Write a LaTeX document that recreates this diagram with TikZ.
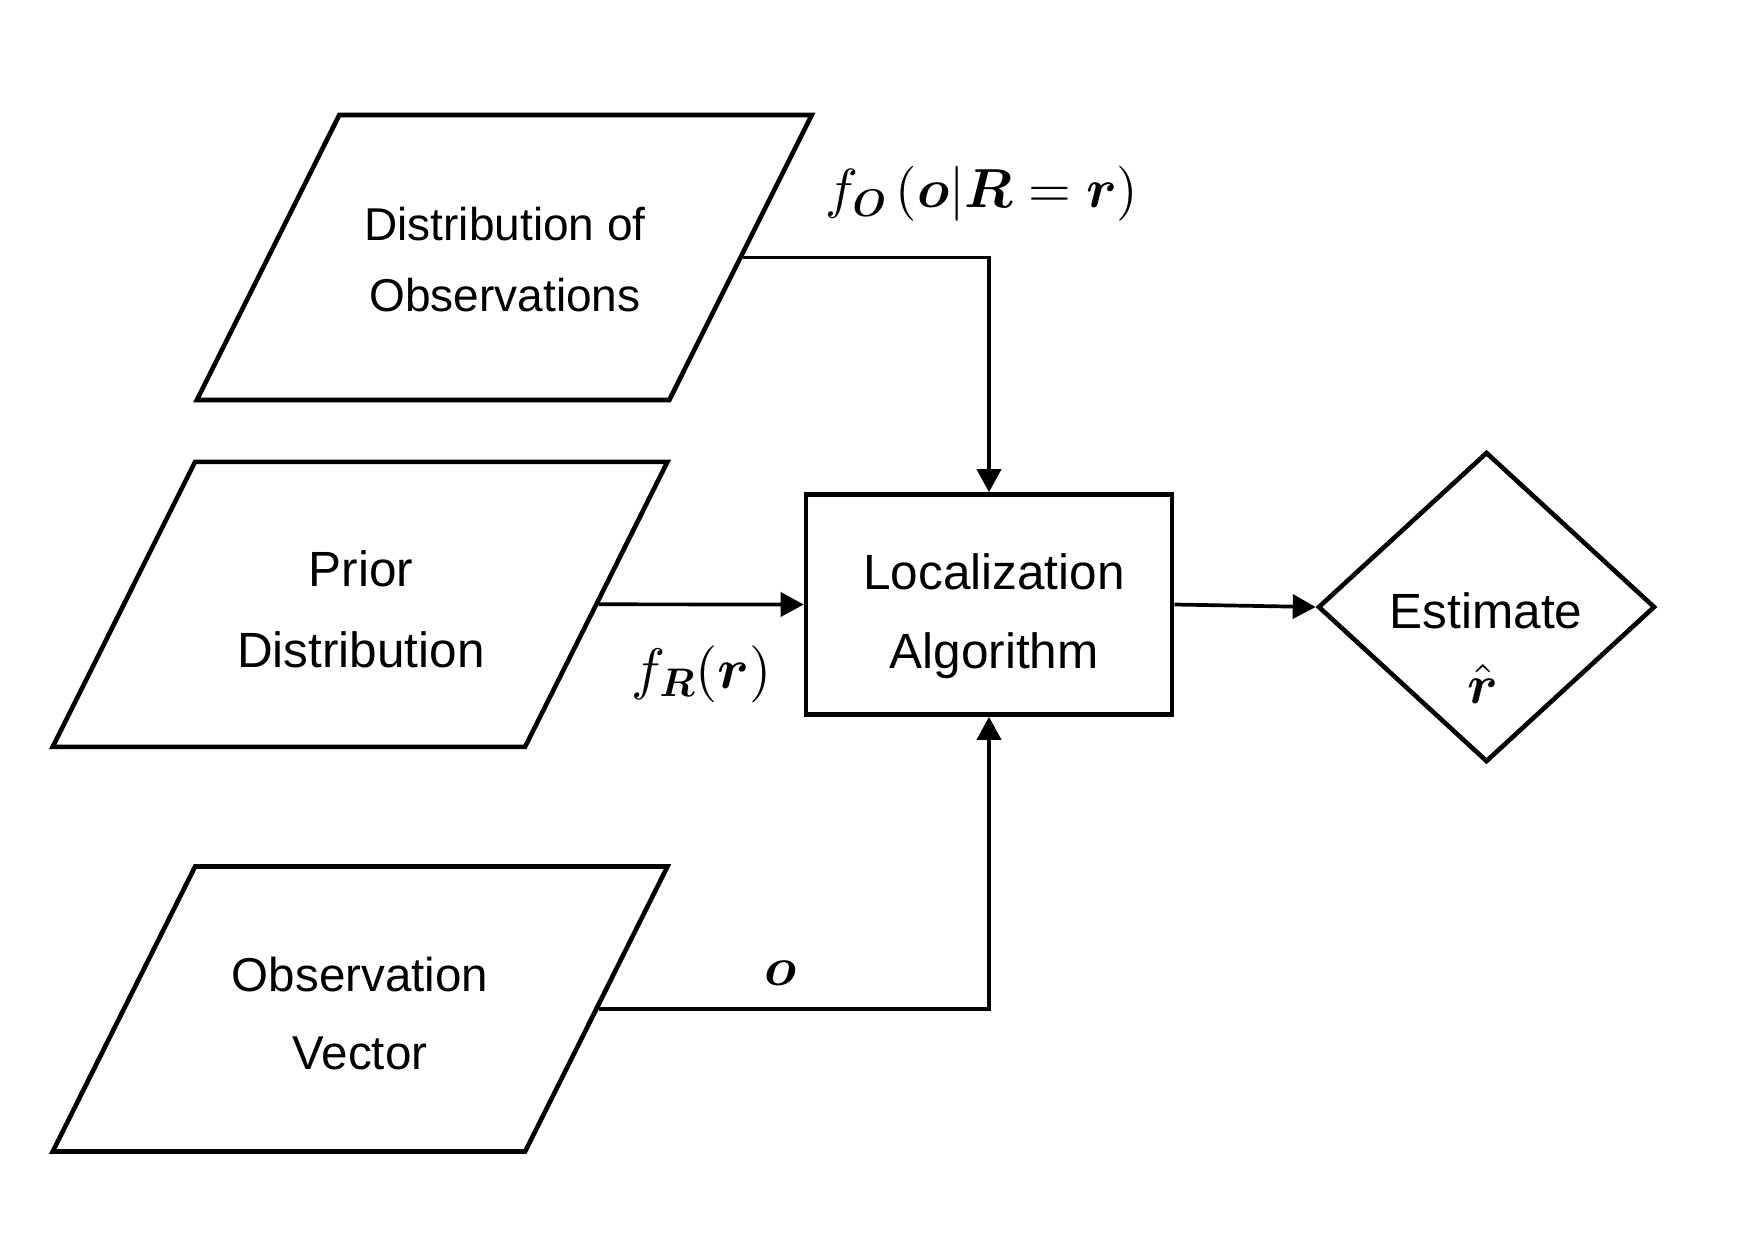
\documentclass[tikz,border=0pt]{standalone}
\usepackage{amsmath}
\usepackage[no-math]{fontspec}
\setmainfont{Liberation Sans}
\DeclareFontShape{OML}{cmm}{m}{it}{<->cmmi10}{\skewchar\font127 }
\DeclareFontShape{OML}{cmm}{b}{it}{<->cmmib10}{\skewchar\font127 }
\DeclareFontShape{OT1}{cmr}{m}{n}{<->cmr10}{}
\DeclareFontShape{OT1}{cmr}{bx}{n}{<->cmbx10}{}
\DeclareFontShape{OMS}{cmsy}{m}{n}{<->cmsy10}{\skewchar\font48 }
\DeclareFontShape{OMS}{cmsy}{b}{n}{<->cmbsy10}{\skewchar\font48 }
\DeclareFontShape{OMX}{cmex}{m}{n}{<->cmex10}{}
\usetikzlibrary{shapes.geometric,arrows.meta}
\begin{document}
\begin{tikzpicture}[x=1pt,y=-1pt,
  shp/.style={draw, line width=4.6pt, line join=miter},
  para/.style={shp, shape=trapezium, trapezium left angle=63.45, trapezium right angle=116.55,
    inner xsep=165pt, inner ysep=142.5pt, minimum width=0pt, minimum height=0pt},
  algbox/.style={shp, rectangle, minimum width=366pt, minimum height=220pt, inner sep=0pt},
  dia/.style={shp, diamond, minimum width=337pt, minimum height=310pt, inner sep=0pt},
  conn/.style={line width=3.7pt, -{Triangle[length=23pt,width=24pt]}},
  txt/.style={font=\fontsize{49.5}{59}\selectfont, anchor=base, inner sep=0pt},
  mth/.style={font=\fontsize{55}{66}\selectfont, anchor=base, inner sep=0pt}]
\useasboundingbox (0,0) rectangle (1755,1240);

% shapes
\node[para] (obsdist) at (504.3,257.5) {};
\node[para] (prior) at (360.1,604.3) {};
\node[para] (obsvec) at (360.1,1009) {};
\node[algbox] (loc) at (989,604.5) {};
\node[dia] (est) at (1486.5,607) {};

% texts
\node[txt, font=\fontsize{46}{55}\selectfont] (t1a) at (505,240.7) {Distribution of};
\node[txt, font=\fontsize{46}{55}\selectfont] (t1b) at (505,311.7) {Observations};
\node[txt] (t2a) at (361,586.5) {Prior};
\node[txt] (t2b) at (361,667) {Distribution};
\node[txt, font=\fontsize{47.5}{57}\selectfont] (t3a) at (360,991.7) {Observation};
\node[txt, font=\fontsize{47.5}{57}\selectfont] (t3b) at (360,1069) {Vector};
\node[txt] (t4a) at (994,589.3) {Localization};
\node[txt] (t4b) at (994,668.3) {Algorithm};
\node[txt] (t5a) at (1486,628) {Estimate};
\node[mth] (t5b) at (1483,703) {$\hat{\boldsymbol{r}}$};

% connector labels
\node[mth] (lab1) at (982,207.8) {$f_{\boldsymbol{O}}\,(\boldsymbol{o}|\boldsymbol{R}=\boldsymbol{r})$};
\node[mth, font=\fontsize{57}{68}\selectfont] (lab2) at (701.5,688) {$f_{\boldsymbol{R}}(\boldsymbol{r})$};
\node[mth] (lab3) at (781,985) {$\boldsymbol{o}$};

% connectors
\draw[conn] (obsdist.east) -| (loc.north);
\draw[conn] (prior.east) -- (loc.west);
\draw[conn] (obsvec.east) -| (loc.south);
\draw[conn] (loc.east) -- (est.west);
\end{tikzpicture}
\end{document}
